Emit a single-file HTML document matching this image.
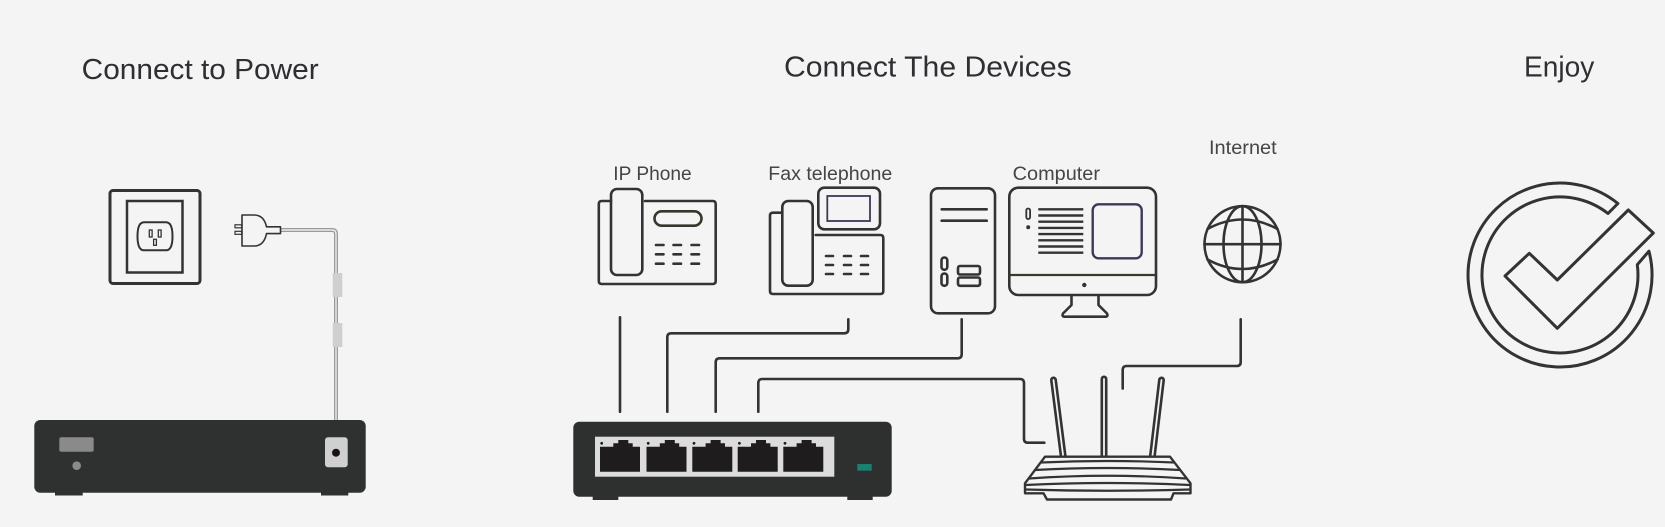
<!DOCTYPE html>
<html>
<head>
<meta charset="utf-8">
<style>
  html,body{margin:0;padding:0;background:#f4f4f4;}
  svg{display:block;}
  .h{font-family:"Liberation Sans",sans-serif;font-size:29px;fill:#2e2e33;}
  .l{font-family:"Liberation Sans",sans-serif;font-size:19px;fill:#454545;}
  .s{fill:none;stroke:#333;stroke-width:2.6;stroke-linecap:round;stroke-linejoin:round;}
</style>
</head>
<body>
<svg width="1665" height="527" viewBox="0 0 1665 527" xmlns="http://www.w3.org/2000/svg">
  <rect x="0" y="0" width="1665" height="527" fill="#f4f4f4"/>

  <!-- Headings -->
  <text class="h" x="81.7" y="79" textLength="237" lengthAdjust="spacingAndGlyphs">Connect to Power</text>
  <text class="h" x="784" y="76.7" textLength="287.7" lengthAdjust="spacingAndGlyphs">Connect The Devices</text>
  <text class="h" x="1524" y="76.7" textLength="70.3" lengthAdjust="spacingAndGlyphs">Enjoy</text>

  <!-- Labels -->
  <text class="l" x="613.3" y="180" textLength="78.4" lengthAdjust="spacingAndGlyphs">IP Phone</text>
  <text class="l" x="768.3" y="180" textLength="124" lengthAdjust="spacingAndGlyphs">Fax telephone</text>
  <text class="l" x="1012.7" y="180" textLength="87.3" lengthAdjust="spacingAndGlyphs">Computer</text>
  <text class="l" x="1209" y="154" textLength="67.7" lengthAdjust="spacingAndGlyphs">Internet</text>

  <!-- ============ POWER SECTION ============ -->
  <!-- Outlet -->
  <rect x="110" y="190.5" width="90" height="93" rx="3" fill="none" stroke="#333" stroke-width="3"/>
  <rect x="127" y="201" width="55.5" height="71.5" fill="none" stroke="#333" stroke-width="2.5"/>
  <path d="M144,222.2 H166 Q172.5,222.2 172.5,236.2 Q172.5,250.3 166,250.3 H144 Q137.5,250.3 137.5,236.2 Q137.5,222.2 144,222.2 Z" fill="none" stroke="#333" stroke-width="2"/>
  <rect x="149.3" y="230" width="2.8" height="7" fill="none" stroke="#333" stroke-width="1.3"/>
  <rect x="158.3" y="230" width="2.8" height="7" fill="none" stroke="#333" stroke-width="1.3"/>
  <rect x="153.6" y="239.3" width="2.8" height="6" fill="none" stroke="#333" stroke-width="1.3"/>

  <!-- Cord -->
  <path d="M280,230 H332 Q336,230 336,234 V421" fill="none" stroke="#9a9a9a" stroke-width="4"/>
  <path d="M280,230 H332 Q336,230 336,234 V421" fill="none" stroke="#ececec" stroke-width="1.4"/>
  <rect x="332.7" y="273" width="9.6" height="24" fill="#cfcfcf"/>
  <rect x="332.7" y="323" width="9.6" height="24" fill="#cfcfcf"/>

  <!-- Plug -->
  <rect x="235" y="224.8" width="6.7" height="3" fill="#f4f4f4" stroke="#333" stroke-width="1.2"/>
  <rect x="235" y="231.3" width="6.7" height="3" fill="#f4f4f4" stroke="#333" stroke-width="1.2"/>
  <path d="M242,215 H254 Q264,215 266.5,226.8 H280.5 V233.6 H266.5 Q264,246 254,246 H242 Z" fill="#f4f4f4" stroke="#333" stroke-width="1.6" stroke-linejoin="round"/>

  <!-- Power box -->
  <rect x="55" y="488" width="27.7" height="7.5" fill="#2f3030"/>
  <rect x="321" y="488" width="27.3" height="7.5" fill="#2f3030"/>
  <rect x="34.3" y="420" width="331.4" height="72.7" rx="6" fill="#2f3030"/>
  <rect x="59.3" y="437.3" width="34.4" height="14.4" rx="2" fill="#8a8a8a"/>
  <circle cx="76.7" cy="465.7" r="4.3" fill="#8a8a8a"/>
  <rect x="325" y="437.3" width="22.7" height="30" rx="3" fill="#d0d0d0"/>
  <circle cx="336" cy="452.7" r="4" fill="#1c1212"/>

  <!-- ============ DEVICES SECTION ============ -->
  <!-- IP Phone -->
  <path class="s" d="M611,201 H601.8 Q598.8,201 598.8,204 V281 Q598.8,284 601.8,284 H712.7 Q715.7,284 715.7,281 V204 Q715.7,201 712.7,201 H645"/>
  <rect class="s" x="611" y="189" width="31.3" height="86" rx="6"/>
  <rect x="654.5" y="211.3" width="47" height="14.4" rx="7.2" fill="none" stroke="#36362a" stroke-width="2.6"/>
  <g class="s" stroke-width="3">
    <path d="M656,245 H663.5 M673.5,245 H681 M691.5,245 H699"/>
    <path d="M656,254.3 H663.5 M673.5,254.3 H681 M691.5,254.3 H699"/>
    <path d="M656,263.7 H663.5 M673.5,263.7 H681 M691.5,263.7 H699"/>
  </g>

  <!-- Fax telephone -->
  <path class="s" d="M782.3,212.7 H773 Q770,212.7 770,215.7 V291 Q770,294 773,294 H880.3 Q883.3,294 883.3,291 V238 Q883.3,235 880.3,235 H815.7"/>
  <rect class="s" x="782.3" y="201" width="30.4" height="84.7" rx="6"/>
  <rect class="s" x="818.3" y="187.7" width="61.7" height="41.6" rx="6"/>
  <rect x="827.3" y="196" width="42.7" height="25" fill="none" stroke="#3a3a58" stroke-width="1.8"/>
  <g class="s" stroke-width="3">
    <path d="M826,256 H833 M844,256 H851 M861,256 H868"/>
    <path d="M826,265 H833 M844,265 H851 M861,265 H868"/>
    <path d="M826,274 H833 M844,274 H851 M861,274 H868"/>
  </g>

  <!-- Tower -->
  <rect class="s" x="931" y="188.3" width="64" height="125" rx="7"/>
  <path class="s" d="M941.7,209.3 H986.7 M941.7,220.7 H986.7"/>
  <rect class="s" x="941.5" y="257.5" width="5.8" height="12.3" rx="2.9" stroke-width="2"/>
  <rect class="s" x="941.5" y="273.5" width="5.8" height="12.3" rx="2.9" stroke-width="2"/>
  <rect class="s" x="958" y="266" width="22" height="8.5" rx="2" stroke-width="2"/>
  <rect class="s" x="958" y="277.5" width="22" height="8.3" rx="2" stroke-width="2"/>

  <!-- Monitor -->
  <rect class="s" x="1009.3" y="187.7" width="146.7" height="107.3" rx="9"/>
  <line x1="1010" y1="275" x2="1155" y2="275" stroke="#3a3a28" stroke-width="2.2"/>
  <circle cx="1084.3" cy="285" r="2.2" fill="#333"/>
  <rect x="1092.7" y="204.3" width="49" height="54" rx="6" fill="none" stroke="#3a3a58" stroke-width="2.4"/>
  <g stroke="#333" stroke-width="2.4">
    <line x1="1038.3" y1="209.3" x2="1083.3" y2="209.3"/>
    <line x1="1038.3" y1="215.5" x2="1083.3" y2="215.5"/>
    <line x1="1038.3" y1="221.7" x2="1083.3" y2="221.7"/>
    <line x1="1038.3" y1="227.9" x2="1083.3" y2="227.9"/>
    <line x1="1038.3" y1="234.1" x2="1083.3" y2="234.1"/>
    <line x1="1038.3" y1="240.3" x2="1083.3" y2="240.3"/>
    <line x1="1038.3" y1="246.5" x2="1083.3" y2="246.5"/>
    <line x1="1038.3" y1="252.7" x2="1083.3" y2="252.7"/>
  </g>
  <rect x="1026.3" y="208.5" width="3.8" height="10.5" rx="1.9" fill="none" stroke="#333" stroke-width="1.8"/>
  <circle cx="1028.2" cy="227.3" r="2" fill="#333"/>
  <path class="s" d="M1071.5,296 V305 L1063,313.5 Q1061.5,316.7 1065,316.7 H1105 Q1108.5,316.7 1107,313.5 L1098.5,305 V296"/>

  <!-- Globe -->
  <g class="s" stroke-width="2.8">
    <circle cx="1242.5" cy="244.2" r="38"/>
    <ellipse cx="1242.5" cy="244.2" rx="19" ry="38"/>
    <line x1="1242.5" y1="206.2" x2="1242.5" y2="282.2"/>
    <line x1="1204.5" y1="244.2" x2="1280.5" y2="244.2"/>
    <path d="M1207.5,229 Q1242.5,210 1277.5,229"/>
    <path d="M1207.5,259.5 Q1242.5,278.5 1277.5,259.5"/>
  </g>

  <!-- Connectors -->
  <g class="s">
    <path d="M620,317.3 V411.7"/>
    <path d="M667.3,411.7 V337.3 Q667.3,333.3 671.3,333.3 H844.3 Q848.3,333.3 848.3,329.3 V319.3"/>
    <path d="M715.7,411.7 V362.3 Q715.7,358.3 719.7,358.3 H957.7 Q961.7,358.3 961.7,354.3 V319.3"/>
    <path d="M758.3,411.7 V383 Q758.3,379 762.3,379 H1020 Q1024,379 1024,383 V438.7 Q1024,442.7 1028,442.7 H1044.3"/>
    <path d="M1240.7,319.3 V362 Q1240.7,366 1236.7,366 H1126.7 Q1122.7,366 1122.7,370 V388.5"/>
  </g>

  <!-- Switch -->
  <rect x="592.7" y="492" width="25.6" height="8" fill="#2e3030"/>
  <rect x="847.3" y="492" width="25.4" height="8" fill="#2e3030"/>
  <rect x="573.3" y="421.7" width="318.4" height="75" rx="6" fill="#2e3030"/>
  <rect x="595" y="436.7" width="239.3" height="40" fill="#dcdcdc"/>
  <g fill="#1e1c1c">
    <polygon points="600,446.7 613.3,446.7 613.3,443.3 618.3,443.3 618.3,440 628.3,440 628.3,443.3 632.7,443.3 632.7,446.7 640,446.7 640,471.7 600,471.7"/>
    <polygon points="646.5,446.7 659.8,446.7 659.8,443.3 664.8,443.3 664.8,440 674.8,440 674.8,443.3 679.2,443.3 679.2,446.7 686.5,446.7 686.5,471.7 646.5,471.7"/>
    <polygon points="692.3,446.7 705.6,446.7 705.6,443.3 710.6,443.3 710.6,440 720.6,440 720.6,443.3 725,443.3 725,446.7 732.3,446.7 732.3,471.7 692.3,471.7"/>
    <polygon points="737.7,446.7 751,446.7 751,443.3 756,443.3 756,440 766,440 766,443.3 770.4,443.3 770.4,446.7 777.7,446.7 777.7,471.7 737.7,471.7"/>
    <polygon points="783.3,446.7 796.6,446.7 796.6,443.3 801.6,443.3 801.6,440 811.6,440 811.6,443.3 816,443.3 816,446.7 823.3,446.7 823.3,471.7 783.3,471.7"/>
    <circle cx="601.7" cy="443.3" r="1.4"/>
    <circle cx="648.2" cy="443.3" r="1.4"/>
    <circle cx="694" cy="443.3" r="1.4"/>
    <circle cx="739.4" cy="443.3" r="1.4"/>
    <circle cx="785" cy="443.3" r="1.4"/>
  </g>
  <rect x="857.3" y="464" width="14.4" height="6.7" fill="#1a8070"/>

  <!-- Router -->
  <g stroke-linecap="round">
    <line x1="1053.5" y1="380" x2="1063.3" y2="457" stroke="#333" stroke-width="7"/>
    <line x1="1053.5" y1="380" x2="1063.3" y2="457" stroke="#f4f4f4" stroke-width="1.8"/>
    <line x1="1104" y1="379" x2="1104" y2="456" stroke="#333" stroke-width="7"/>
    <line x1="1104" y1="379" x2="1104" y2="456" stroke="#f4f4f4" stroke-width="1.8"/>
    <line x1="1161.5" y1="380" x2="1152.3" y2="457" stroke="#333" stroke-width="7"/>
    <line x1="1161.5" y1="380" x2="1152.3" y2="457" stroke="#f4f4f4" stroke-width="1.8"/>
  </g>
  <path d="M1045,456.7 H1170 L1190.5,483.3 V493.3 H1173.5 L1171,499.5 H1047 L1043.5,493.3 H1025 V483.3 Z" fill="#f4f4f4" stroke="#333" stroke-width="2.4" stroke-linejoin="round"/>
  <g fill="none" stroke="#333" stroke-width="2.2">
    <path d="M1041,462.5 Q1107.5,459.5 1174.5,462.5"/>
    <path d="M1035,470 Q1107.5,466 1180,470"/>
    <path d="M1029,478.5 Q1107.5,473 1186,478.5"/>
    <path d="M1025.5,485 Q1107.5,481 1190,485"/>
    <path d="M1025.5,489.5 Q1107.5,492 1190,489.5"/>
  </g>

  <!-- ============ ENJOY ============ -->
  <path d="M1617.9,203.5 A92 92 0 1 0 1648.9,251.2 L1637.3,264.7 A78 78 0 1 1 1608,213.5 Z" fill="none" stroke="#333" stroke-width="3" stroke-linejoin="round"/>
  <path d="M1505,276 L1529.3,253.3 L1557.3,280 L1628.3,210 L1653.3,233 L1557.3,328.3 Z" fill="none" stroke="#333" stroke-width="3" stroke-linejoin="round"/>
</svg>
</body>
</html>
